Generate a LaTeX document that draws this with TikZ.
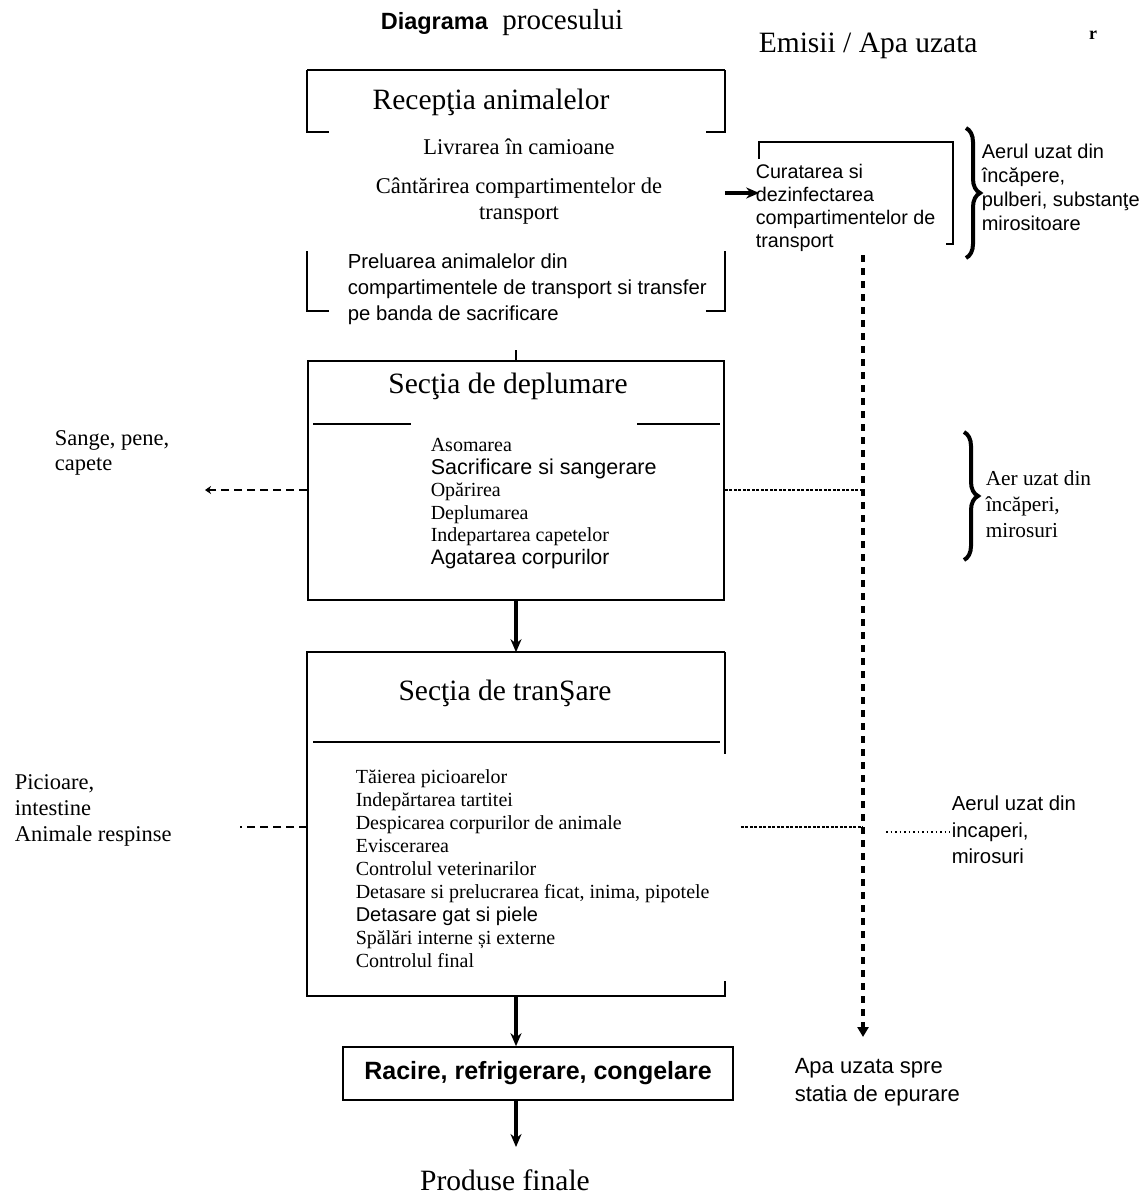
\documentclass[tikz,border=0pt]{standalone}
\usepackage{fontspec}
\setmainfont{Liberation Serif}
\setsansfont{Liberation Sans}
\usetikzlibrary{positioning, arrows.meta, decorations.pathreplacing}
\tikzset{box/.style={minimum width=416pt, inner sep=0pt},
         head/.style={inner sep=0pt, font=\fontsize{29.5}{33}\selectfont},
         txt/.style={inner sep=0pt, align=left, anchor=north west},
         flow/.style={-{Stealth[length=13pt,width=11pt]}, line width=3.2pt},
         water/.style={line width=4pt, dash pattern=on 7pt off 6pt},
         air/.style={line width=1.5pt, dash pattern=on 3pt off 1.5pt},
         waste/.style={line width=2.3pt, dash pattern=on 8pt off 5pt},
         emit/.style={decorate, decoration={brace, amplitude=14pt}, line width=4pt},
        }
\begin{document}
\begin{tikzpicture}[x=1pt, y=-1pt, line width=1.6pt]
        \useasboundingbox (0,0) rectangle (1142,1198);

        \node[anchor=base west, inner sep=0pt, font=\fontsize{29}{32}\selectfont] (title) at (380,30) {{\sffamily\bfseries\fontsize{23.5}{27}\selectfont Diagrama}\ \ procesului};
        \node[anchor=base west, inner sep=0pt, font=\fontsize{29.5}{33}\selectfont] (emi) at (758,53) {Emisii / Apa uzata};
        \node[inner sep=0pt, font=\bfseries\fontsize{18}{20}\selectfont] (rr) at (1093,35) {r};

        \node[box, minimum height=239pt] (rec) at (516,190.5) {};
        \draw (rec.north west) -- (rec.north east);
        \draw (rec.north west) -- ++(0,62) -- ++(22,0);
        \draw (rec.north east) -- ++(0,62) -- ++(-19,0);
        \draw (rec.south west) ++(22,0) -- ++(-22,0) -- ++(0,-60);
        \draw (rec.south east) ++(-19,0) -- ++(19,0) -- ++(0,-60);
        \node[head] (rect) at (491,102) {Recepţia animalelor};
        \node[inner sep=0pt, font=\fontsize{22.5}{26}\selectfont] (livr) at (519,147) {Livrarea în camioane};
        \node[inner sep=0pt, align=center, font=\fontsize{22.5}{26}\selectfont] (cant) at (519,201) {Cântărirea compartimentelor de\\transport};
        \node[txt, font=\sffamily\fontsize{20.3}{26}\selectfont] (prel) at (347,253) {Preluarea animalelor din\\compartimentele de transport si transfer\\pe banda de sacrificare};

        \node[box, draw, minimum height=239pt] (dep) at (516,480.5) {};
        \draw (dep.north) -- ++(0,-10);
        \draw (313,424) -- (411,424);
        \draw (637,424) -- (720,424);
        \node[head] (dept) at (508,386) {Secţia de deplumare};
        \node[txt, font=\fontsize{20}{22.5}\selectfont] (depl) at (430,437.5) {Asomarea\\{\sffamily\fontsize{21.5}{22.5}\selectfont Sacrificare si sangerare}\\Opărirea\\Deplumarea\\Indepartarea capetelor\\{\sffamily\fontsize{21}{22.5}\selectfont Agatarea corpurilor}};

        \node[box, minimum height=342pt] (tra) at (516,824) {};
        \draw (tra.north east) -- (tra.north west) -- (tra.south west) -- (tra.south east) -- ++(0,-15);
        \draw (tra.north east) -- ++(0,102);
        \draw (313,742) -- (720,742);
        \node[head] (trat) at (505,693) {Secţia de tranŞare};
        \node[txt, font=\fontsize{20}{23}\selectfont] (tral) at (355,769) {Tăierea picioarelor\\Indepărtarea tartitei\\Despicarea corpurilor de animale\\Eviscerarea\\Controlul veterinarilor\\Detasare si prelucrarea ficat, inima, pipotele\\{\sffamily\fontsize{20}{23}\selectfont Detasare gat si piele}\\Spălări interne și externe\\Controlul final};

        \node[draw, minimum width=390pt, minimum height=53pt, inner sep=0pt, font=\sffamily\bfseries\fontsize{25}{29}\selectfont] (rac) at (538,1073.5) {Racire, refrigerare, congelare};
        \node[head] (prod) at (505,1180) {Produse finale};
        \coordinate (pend) at (516,1147);

        \draw[flow] (dep.south) -- (tra.north);
        \draw[flow] (tra.south) -- (tra.south |- rac.north);
        \draw[flow] (tra.south |- rac.south) -- (pend);

        \node[minimum width=192pt, minimum height=100pt, inner sep=0pt] (cur) at (856,193) {};
        \draw (cur.north west) ++(0,17) -- (cur.north west) -- (cur.north east) -- (cur.south east) -- ++(-7,0);
        \node[txt, font=\sffamily\fontsize{19.7}{23.3}\selectfont] (curt) at (755,163) {Curatarea si\\dezinfectarea\\compartimentelor de\\transport};
        \draw[flow] (rec.east |- cur.west) -- (cur.west);

        \coordinate (wtop) at (863,255);
        \coordinate (wbot) at (863,1037);
        \draw[water, -{Triangle[length=10pt,width=11pt]}] (wtop) -- (wbot);

        \draw[emit] (966,128) -- (966,258);
        \node[txt, font=\sffamily\fontsize{20}{24}\selectfont] (aer1) at (981,143) {Aerul uzat din\\încăpere,\\pulberi, substanţe\\mirositoare};
        \draw[emit] (964,432) -- (964,560);
        \node[txt, font=\fontsize{21.3}{26}\selectfont] (aer2) at (985,470) {Aer uzat din\\încăperi,\\mirosuri};
        \node[txt, font=\sffamily\fontsize{20.3}{26.5}\selectfont] (aer3) at (951,795) {Aerul uzat din\\incaperi,\\mirosuri};
        \node[txt, font=\sffamily\fontsize{22}{28}\selectfont] (apa) at (794,1058) {Apa uzata spre\\statia de epurare};

        \node[txt, font=\fontsize{22.5}{25}\selectfont] (sange) at (54,430) {Sange, pene,\\capete};
        \node[txt, font=\fontsize{22.5}{26}\selectfont] (pic) at (14,774) {Picioare,\\intestine\\Animale respinse};

        \coordinate (sd) at (205,490);
        \coordinate (wd) at (863,490);
        \draw[waste, -{Stealth[length=6pt,width=8pt]}] (sd -| dep.west) -- (sd);
        \draw[air] (wd -| dep.east) -- (wd);

        \coordinate (pd) at (240,827);
        \coordinate (td) at (863,827);
        \coordinate (ad) at (950,832);
        \draw[waste] (pd -| tra.west) -- (pd);
        \draw[air] ([xshift=16pt]td -| tra.east) -- (td);
        \draw[line width=1.8pt, dash pattern=on 1.5pt off 3pt] (886,832) -- (ad);
    \end{tikzpicture}
\end{document}
